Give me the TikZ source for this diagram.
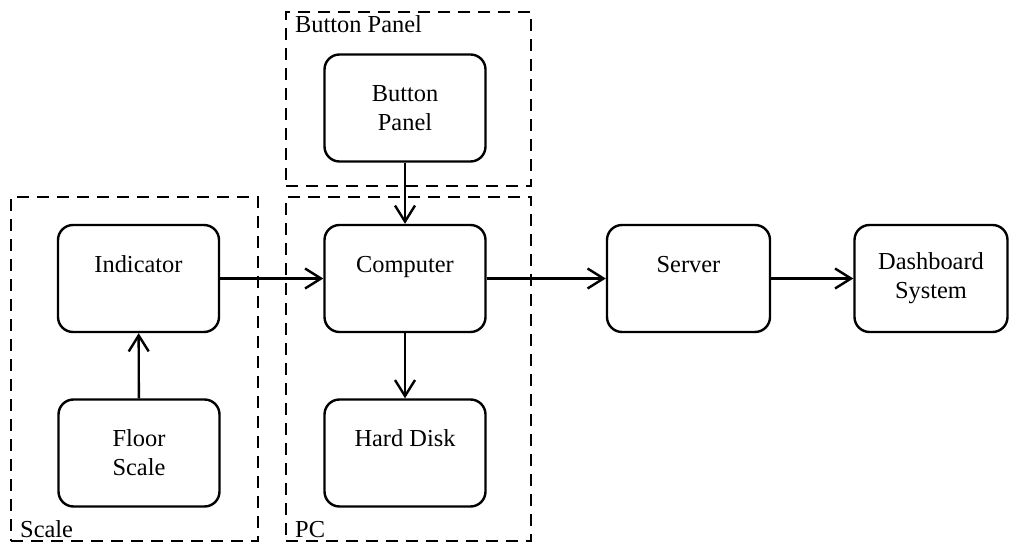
\documentclass[tikz,border=0pt]{standalone}
\usepackage{fontspec}
\setmainfont{Liberation Serif}
\usetikzlibrary{arrows.meta,positioning,calc}

\tikzset{
  block/.style={draw, rounded corners=7.5pt, line width=1.2pt, align=center,
                minimum width=80.5pt, minimum height=53.5pt, inner sep=0pt},
  group/.style={draw, dash pattern=on 6pt off 4pt, line width=1.2pt, inner sep=0pt},
  grouplbl/.style={inner xsep=5pt, inner ysep=2pt},
  flow/.style={-{Straight Barb[length=8pt,width=10pt]}, line width=1.2pt}
}

\begin{document}
\begin{tikzpicture}[x=0.5pt, y=-0.5pt, font=\fontsize{12.2}{14.5}\selectfont]
  \useasboundingbox (0,0) rectangle (1010,544);

  % dashed groups
  \node[group, minimum width=123.5pt, minimum height=172pt] (scalegrp) at (134.5,369) {};
  \node[group, minimum width=122.5pt, minimum height=172pt] (pcgrp) at (408.5,369) {};
  \node[group, minimum width=122.5pt, minimum height=87pt] (btngrp) at (408.5,99) {};
  \node[grouplbl, anchor=south west] (scalelbl) at (scalegrp.south west) {Scale};
  \node[grouplbl, anchor=south west] (pclbl) at (pcgrp.south west) {PC};
  \node[grouplbl, anchor=north west] (btnlbl) at (btngrp.north west) {Button Panel};

  % blocks
  \node[block] (btn) at (405,108) {Button\\Panel};
  \node[block] (ind) at (138.5,278.5) {Indicator\\~};
  \node[block] (floor) at (139,453) {Floor\\Scale};
  \node[block] (comp) at (405,278.5) {Computer\\~};
  \node[block] (disk) at (405,453) {Hard Disk\\~};
  \node[block, minimum width=81.5pt] (server) at (688.5,278.5) {Server\\~};
  \node[block, minimum width=76.5pt] (dash) at (931,278.5) {Dashboard\\System};

  % connectors
  \draw[flow] (floor) -- (ind);
  \draw[flow] (ind) -- (comp);
  \draw[flow] (btn) -- (comp);
  \draw[flow] (comp) -- (disk);
  \draw[flow] (comp) -- (server);
  \draw[flow] (server) -- (dash);
\end{tikzpicture}
\end{document}
